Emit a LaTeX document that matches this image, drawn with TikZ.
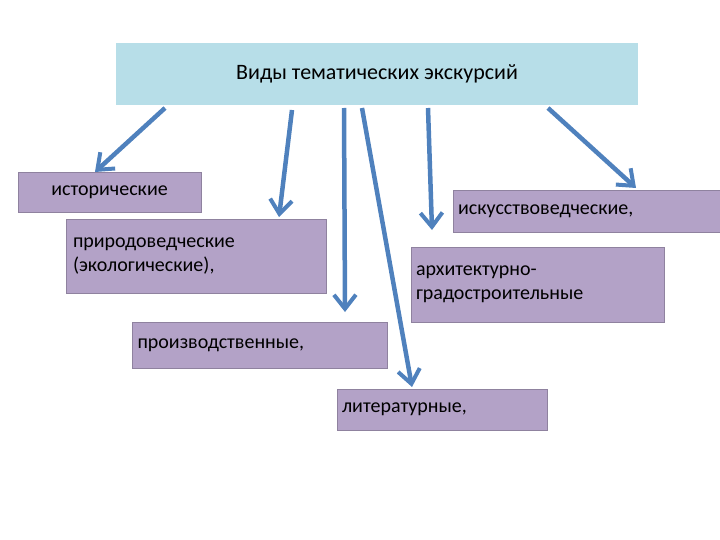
\documentclass[tikz,border=0pt]{standalone}
\usepackage{fontspec}
\setmainfont{Carlito}
\usetikzlibrary{arrows.meta}
\definecolor{topc}{HTML}{B7DEE8}
\definecolor{boxc}{HTML}{B3A2C7}
\definecolor{arr}{HTML}{4F81BD}
\begin{document}
\begin{tikzpicture}[x=1pt,y=-1pt,
  box/.style={fill=boxc,draw=boxc!80!black,line width=0.5pt,inner sep=0pt,font=\fontsize{20}{24}\selectfont},
  con/.style={draw=arr,line width=4.5pt,-{Straight Barb[length=14pt,width=22pt,line width=4pt]}}]
\useasboundingbox (0,0) rectangle (720,540);
\node[fill=topc,minimum width=522pt,minimum height=62pt,inner sep=0pt,font=\fontsize{22}{26}\selectfont] (top) at (377,74) {Виды тематических экскурсий};
\node[box,minimum width=183pt,minimum height=40pt] (ist) at (109.5,192) {исторические};
\node[box,minimum width=260pt,minimum height=74pt,align=left,text width=246pt] (pri) at (196,256) {природоведческие\\(экологические),};
\node[box,minimum width=255pt,minimum height=46pt,align=left,text width=245pt] (pro) at (260,345) {производственные,};
\node[box,minimum width=267pt,minimum height=42pt,align=left,text width=257pt] (isk) at (586.5,211) {искусствоведческие,};
\node[box,minimum width=253pt,minimum height=75pt,align=left,text width=243pt] (arh) at (537.5,284.5) {архитектурно-\\градостроительные};
\node[box,minimum width=210pt,minimum height=41pt,align=left,text width=200pt] (lit) at (442,409.5) {литературные,};
\coordinate (s1) at (165,108); \coordinate (e1) at (95,172);
\coordinate (s2) at (292,110); \coordinate (e2) at (279,217);
\coordinate (s3) at (344,108); \coordinate (e3) at (345,312);
\coordinate (s4) at (362,108); \coordinate (e4) at (412,387);
\coordinate (s5) at (428,108); \coordinate (e5) at (432,230);
\coordinate (s6) at (548,108); \coordinate (e6) at (636,188);
\draw[con] (s1) -- (e1);
\draw[con] (s2) -- (e2);
\draw[con] (s3) -- (e3);
\draw[con] (s4) -- (e4);
\draw[con] (s5) -- (e5);
\draw[con] (s6) -- (e6);
\end{tikzpicture}
\end{document}
